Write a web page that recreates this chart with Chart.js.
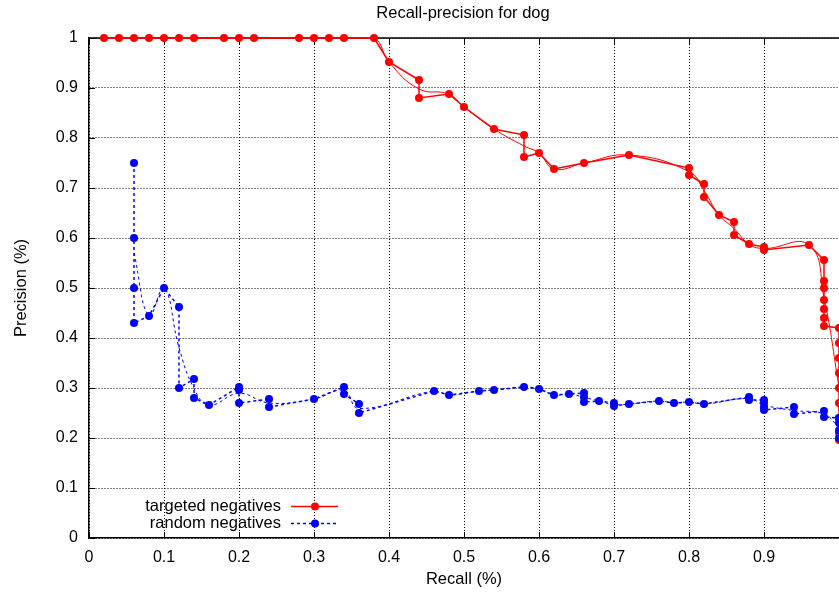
<!DOCTYPE html>
<html>
<head>
<meta charset="utf-8">
<script src="https://cdn.jsdelivr.net/npm/chart.js@4/dist/chart.umd.min.js"></script>
<style>
html, body { margin: 0; padding: 0; background: #fff; overflow: hidden; }
canvas { display: block; }
</style>
</head>
<body>
<canvas id="chart" width="843" height="593"></canvas>
<script>
// targeted negatives (red)
const targetedRecall = [
    0.02, 0.04, 0.06, 0.08, 0.10, 0.12, 0.14, 0.18, 0.20, 0.22, 0.28, 0.30, 0.32, 0.34, 0.38,
    0.40, 0.44, 0.44, 0.48, 0.50, 0.54, 0.58, 0.58, 0.60, 0.62, 0.66, 0.72, 0.80, 0.80,
    0.82, 0.82, 0.84, 0.86, 0.86, 0.88, 0.90, 0.90, 0.96,
    0.98, 0.98, 0.98, 0.98, 0.98, 0.98, 0.98,
    1.0, 1.0, 1.0, 1.0, 1.0, 1.0, 1.0, 1.0, 1.0
];
const targetedPrecision = [
    1, 1, 1, 1, 1, 1, 1, 1, 1, 1, 1, 1, 1, 1, 1,
    0.952, 0.916, 0.88, 0.888, 0.862, 0.818, 0.806, 0.762, 0.77, 0.738, 0.75, 0.766, 0.74, 0.726,
    0.708, 0.682, 0.646, 0.632, 0.606, 0.588, 0.582, 0.576, 0.586,
    0.556, 0.514, 0.5, 0.476, 0.458, 0.44, 0.424,
    0.42, 0.39, 0.36, 0.33, 0.30, 0.27, 0.24, 0.21, 0.196
];

// random negatives (blue)
const randomRecall = [
    0.06, 0.06, 0.06, 0.06, 0.08, 0.10, 0.12, 0.12, 0.14, 0.14, 0.16, 0.20, 0.20, 0.20,
    0.24, 0.24, 0.30, 0.34, 0.34, 0.36, 0.36, 0.46, 0.48, 0.52, 0.54, 0.58, 0.60, 0.62, 0.64,
    0.66, 0.66, 0.66, 0.68, 0.70, 0.70, 0.72, 0.76, 0.78, 0.80, 0.82, 0.88, 0.88,
    0.90, 0.90, 0.90, 0.90, 0.94, 0.94, 0.98, 0.98, 1.0, 1.0, 1.0, 1.0
];
const randomPrecision = [
    0.75, 0.60, 0.50, 0.43, 0.444, 0.50, 0.462, 0.30, 0.318, 0.28, 0.266, 0.302, 0.296, 0.27,
    0.278, 0.262, 0.278, 0.302, 0.288, 0.268, 0.25, 0.294, 0.286, 0.294, 0.296, 0.302, 0.298, 0.286, 0.288,
    0.29, 0.282, 0.272, 0.274, 0.27, 0.264, 0.268, 0.274, 0.27, 0.272, 0.268, 0.282, 0.276,
    0.276, 0.27, 0.262, 0.256, 0.262, 0.248, 0.254, 0.242, 0.24, 0.23, 0.215, 0.2
];

const xTicks = [0, 0.1, 0.2, 0.3, 0.4, 0.5, 0.6, 0.7, 0.8, 0.9, 1];
const yTicks = [0, 0.1, 0.2, 0.3, 0.4, 0.5, 0.6, 0.7, 0.8, 0.9, 1];

const FONT = '"Liberation Sans", Arial, Helvetica, sans-serif';

function toPoints(xs, ys) {
    return xs.map((x, i) => ({ x: x, y: ys[i] }));
}

// average the points sharing a recall value, for the smoothed curve
function smoothPoints(xs, ys) {
    const out = [];
    xs.forEach((x, i) => {
        const last = out[out.length - 1];
        if (last && last.x === x) { last.sum += ys[i]; last.n++; }
        else out.push({ x: x, sum: ys[i], n: 1 });
    });
    return out.map(p => ({ x: p.x, y: p.sum / p.n }));
}

const series = [
    { label: 'targeted negatives', color: '#ff0000', dash: [], xs: targetedRecall, ys: targetedPrecision },
    { label: 'random negatives', color: '#0000ff', dash: [3, 3], xs: randomRecall, ys: randomPrecision }
];

const datasets = [];
series.forEach((s, i) => {
    datasets.push({
        label: s.label,
        data: toPoints(s.xs, s.ys),
        showLine: true,
        borderColor: s.color,
        borderWidth: 1.5,
        borderDash: s.dash,
        backgroundColor: s.color,
        pointRadius: 4,
        pointBorderWidth: 0,
        pointBackgroundColor: s.color,
        tension: 0,
        clip: false,
        order: 1 - i
    });
    datasets.push({
        label: s.label + ' (smooth)',
        data: smoothPoints(s.xs, s.ys),
        showLine: true,
        borderColor: s.color,
        borderWidth: 1,
        borderDash: s.dash,
        pointRadius: 0,
        tension: 0.45,
        clip: false,
        order: 3 - i
    });
});

// frame, inward tick marks, title, axis titles and legend (gnuplot look)
const gnuplotFrame = {
    id: 'gnuplotFrame',
    beforeDatasetsDraw(chart) {
        const { ctx, chartArea: a, scales: { x, y } } = chart;
        ctx.save();
        ctx.strokeStyle = '#000';
        ctx.lineWidth = 1.5;
        ctx.beginPath();
        ctx.moveTo(a.left, a.top);
        ctx.lineTo(a.right, a.top);
        ctx.stroke();
        ctx.lineWidth = 1;
        ctx.beginPath();
        xTicks.forEach(v => {
            const px = Math.round(x.getPixelForValue(v)) + 0.5;
            ctx.moveTo(px, a.bottom); ctx.lineTo(px, a.bottom - 6);
            ctx.moveTo(px, a.top); ctx.lineTo(px, a.top + 6);
        });
        yTicks.forEach(v => {
            const py = Math.round(y.getPixelForValue(v)) + 0.5;
            ctx.moveTo(a.left, py); ctx.lineTo(a.left + 6, py);
        });
        ctx.stroke();
        ctx.restore();
    },
    afterDraw(chart) {
        const { ctx } = chart;
        ctx.save();
        ctx.fillStyle = '#000';
        ctx.font = '16.5px ' + FONT;
        ctx.textAlign = 'center';
        ctx.textBaseline = 'middle';
        ctx.fillText('Recall-precision for dog', 463, 13);
        ctx.fillText('Recall (%)', 464, 579);
        ctx.translate(21, 288);
        ctx.rotate(-Math.PI / 2);
        ctx.fillText('Precision (%)', 0, 0);
        ctx.restore();

        // legend
        ctx.save();
        ctx.font = '16.5px ' + FONT;
        ctx.textAlign = 'right';
        ctx.textBaseline = 'middle';
        series.forEach((s, i) => {
            const ly = 506 + i * 17;
            ctx.fillStyle = '#000';
            ctx.fillText(s.label, 281, ly);
            ctx.strokeStyle = s.color;
            ctx.lineWidth = 1.5;
            ctx.setLineDash(s.dash);
            ctx.beginPath();
            ctx.moveTo(291, ly + 0.5);
            ctx.lineTo(338, ly + 0.5);
            ctx.stroke();
            ctx.setLineDash([]);
            ctx.fillStyle = s.color;
            ctx.beginPath();
            ctx.arc(315, ly + 0.5, 4, 0, Math.PI * 2);
            ctx.fill();
        });
        ctx.restore();
    }
};

const fmt = v => String(+v.toFixed(1));

new Chart(document.getElementById('chart'), {
    type: 'scatter',
    data: { datasets: datasets },
    plugins: [gnuplotFrame],
    options: {
        responsive: false,
        animation: false,
        layout: { padding: { top: 38, right: 2, left: 0, bottom: 0 } },
        plugins: {
            legend: { display: false },
            title: { display: false },
            tooltip: { enabled: false }
        },
        scales: {
            x: {
                type: 'linear',
                min: 0,
                max: 1,
                afterBuildTicks: s => { s.ticks = xTicks.map(v => ({ value: v })); },
                afterFit: s => { s.height = 55; s.paddingLeft = 0; s.paddingRight = 0; },
                ticks: {
                    color: '#000',
                    padding: 10,
                    maxRotation: 0,
                    font: { family: FONT, size: 16 },
                    callback: v => (v >= 1 ? '' : fmt(v))
                },
                grid: { color: '#000', lineWidth: 1, drawTicks: false },
                border: { display: true, color: '#000', width: 1.5, dash: [1, 2] }
            },
            y: {
                type: 'linear',
                min: 0,
                max: 1,
                afterBuildTicks: s => { s.ticks = yTicks.map(v => ({ value: v })); },
                afterFit: s => { s.width = 89; s.paddingTop = 0; s.paddingBottom = 0; },
                ticks: {
                    color: '#000',
                    padding: 11,
                    font: { family: FONT, size: 16 },
                    callback: fmt
                },
                grid: { color: '#000', lineWidth: 1, drawTicks: false },
                border: { display: true, color: '#000', width: 1.5, dash: [1, 2] }
            }
        }
    }
});
</script>
</body>
</html>
